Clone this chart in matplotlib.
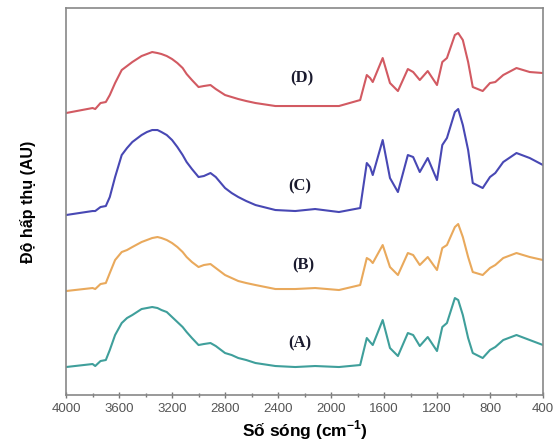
import matplotlib
matplotlib.use("Agg")
import matplotlib.pyplot as plt

plt.rcParams["mathtext.fontset"] = "custom"
plt.rcParams["mathtext.rm"] = "Liberation Sans"
plt.rcParams["mathtext.bf"] = "Liberation Sans:bold"

wavenumber = [4000, 3800, 3780, 3740, 3700, 3670, 3630, 3580, 3540, 3500, 3430, 3390,
              3350, 3310, 3280, 3240, 3200, 3160, 3120, 3090, 3050, 3000, 2960, 2910,
              2870, 2800, 2750, 2700, 2640, 2570, 2420, 2270, 2120, 1940, 1780, 1730,
              1705, 1685, 1610, 1555, 1495, 1420, 1380, 1330, 1270, 1200, 1160, 1125,
              1065, 1040, 1005, 965, 930, 855, 800, 760, 700, 600, 500, 400]

# absorbance (pixel rows; converted to stacked arbitrary units)
ypix_A = [367, 364, 366, 361, 360, 350, 335, 323, 318, 315, 309, 308,
          307, 308, 310, 312, 317, 322, 327, 332, 338, 345, 344, 343,
          346, 353, 355, 358, 360, 363, 366, 367, 366, 367, 365, 338,
          342, 345, 320, 348, 356, 333, 335, 346, 337, 351, 327, 323,
          298, 300, 315, 338, 353, 358, 350, 347, 340, 335, 340, 345]
ypix_B = [291, 288, 289, 284, 283, 273, 260, 252, 250, 247, 242, 240,
          238, 237, 238, 240, 243, 247, 252, 257, 262, 267, 265, 264,
          268, 275, 278, 281, 283, 285, 289, 289, 288, 290, 285, 258,
          260, 263, 245, 267, 275, 253, 255, 265, 257, 270, 248, 245,
          227, 224, 237, 257, 272, 275, 268, 265, 258, 253, 257, 260]
ypix_C = [215, 211, 211, 207, 206, 197, 177, 155, 148, 142, 135, 132,
          130, 130, 132, 135, 140, 147, 155, 162, 169, 177, 176, 173,
          177, 188, 193, 197, 201, 205, 210, 211, 209, 212, 208, 163,
          167, 175, 140, 178, 192, 155, 157, 172, 158, 180, 145, 138,
          112, 109, 125, 150, 183, 188, 177, 173, 162, 153, 158, 165]
ypix_D = [113, 108, 109, 103, 102, 95, 83, 70, 66, 62, 56, 54,
          52, 53, 54, 56, 59, 63, 68, 74, 80, 87, 86, 85,
          89, 95, 97, 99, 101, 103, 106, 106, 106, 106, 100, 75,
          78, 82, 58, 83, 91, 69, 72, 80, 71, 85, 62, 58,
          35, 33, 40, 62, 87, 91, 83, 82, 75, 68, 72, 73]

BASE = 395
series_A = [BASE - v for v in ypix_A]
series_B = [BASE - v for v in ypix_B]
series_C = [BASE - v for v in ypix_C]
series_D = [BASE - v for v in ypix_D]

labels = ["(A)", "(B)", "(C)", "(D)"]
label_x = [2234, 2210, 2234, 2220]
label_y = [52, 130, 209, 317]
colors = ["#3f9f9b", "#e9a95c", "#4848b4", "#d25a62"]

fig = plt.figure(figsize=(5.6, 4.46), dpi=100)
ax = fig.add_axes([0.118, 0.1143, 0.8516, 0.8677])

for s, c in zip([series_A, series_B, series_C, series_D], colors):
    ax.plot(wavenumber, s, color=c, lw=1.5, solid_joinstyle="round")

for t, x, y in zip(labels, label_x, label_y):
    ax.text(x, y, t, ha="center", va="center", fontsize=12, fontweight="bold",
            family="Liberation Serif", color="#1a1a2e")

ax.set_xlim(4000, 400)
ax.set_ylim(0, 387)
ax.set_xticks(range(4000, 399, -400))
ax.set_xticks(range(3800, 399, -400), minor=True)
ax.set_yticks([])
ax.tick_params(axis="x", which="major", length=5, width=1, color="#777777",
               labelsize=9.5, labelcolor="#555555", direction="inout", pad=3)
ax.tick_params(axis="x", which="minor", length=3, width=1, color="#777777", direction="inout")
for lab in ax.get_xticklabels():
    lab.set_family("Liberation Sans")
for sp in ax.spines.values():
    sp.set_color("#888888")
    sp.set_linewidth(1.2)

ax.set_xlabel(r"Số sóng (cm$^{\mathbf{-1}}$)", fontsize=12.5, fontweight="bold",
              family="Liberation Sans", labelpad=3)
ax.set_ylabel("Độ hấp thụ (AU)", fontsize=11.5, fontweight="bold",
              family="Liberation Sans", labelpad=22)

fig.savefig("out.png", dpi=100)
